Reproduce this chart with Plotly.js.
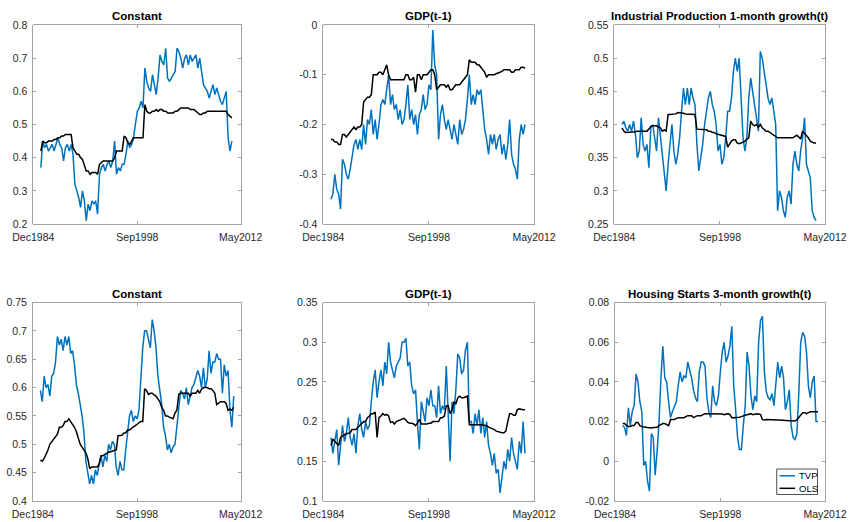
<!DOCTYPE html>
<html>
<head>
<meta charset="utf-8">
<script src="https://cdn.plot.ly/plotly-3.0.1.min.js"></script>
<style>html,body{margin:0;padding:0;background:#fff;}#chart{width:849px;height:522px;}</style>
</head>
<body>
<div id="chart"></div>
<script>
// ---- data (quarterly readings, first point Dec1985) ----
const startYear = 1985, startMonth = 12, stepMonths = 3, nPoints = 103;
const months = [];
for (let k = 0; k < nPoints; k++) {
  const t = startYear * 12 + (startMonth - 1) + k * stepMonths;
  const y = Math.floor(t / 12), m = t % 12 + 1;
  months.push(y + '-' + (m < 10 ? '0' + m : m) + '-01');
}

const titles = ['Constant', 'GDP(t-1)', 'Industrial Production 1-month growth(t)',
                'Constant', 'GDP(t-1)', 'Housing Starts 3-month growth(t)'];
const seriesNames = ['TVP', 'OLS'];
const xTickVals = ['1984-12-01', '1998-09-01', '2012-05-01'];
const xTickText = ['Dec1984', 'Sep1998', 'May2012'];

const yTicks1 = [0.2, 0.3, 0.4, 0.5, 0.6, 0.7, 0.8];
const yLabels1 = ['0.2', '0.3', '0.4', '0.5', '0.6', '0.7', '0.8'];
const yTicks2 = [-0.4, -0.3, -0.2, -0.1, 0];
const yLabels2 = ['-0.4', '-0.3', '-0.2', '-0.1', '0'];
const yTicks3 = [0.25, 0.3, 0.35, 0.4, 0.45, 0.5, 0.55];
const yLabels3 = ['0.25', '0.3', '0.35', '0.4', '0.45', '0.5', '0.55'];
const yTicks4 = [0.4, 0.45, 0.5, 0.55, 0.6, 0.65, 0.7, 0.75];
const yLabels4 = ['0.4', '0.45', '0.5', '0.55', '0.6', '0.65', '0.7', '0.75'];
const yTicks5 = [0.1, 0.15, 0.2, 0.25, 0.3, 0.35];
const yLabels5 = ['0.1', '0.15', '0.2', '0.25', '0.3', '0.35'];
const yTicks6 = [-0.02, 0, 0.02, 0.04, 0.06, 0.08];
const yLabels6 = ['-0.02', '0', '0.02', '0.04', '0.06', '0.08'];

const tvpConst1 = [0.37,0.45,0.43,0.44,0.42,0.43,0.44,0.42,0.44,0.46,
 0.44,0.43,0.39,0.43,0.44,0.42,0.44,0.41,0.32,0.30,
 0.28,0.25,0.30,0.27,0.21,0.26,0.24,0.27,0.26,0.27,
 0.23,0.35,0.37,0.38,0.36,0.38,0.39,0.37,0.39,0.45,
 0.35,0.37,0.36,0.38,0.38,0.41,0.45,0.43,0.44,0.46,
 0.50,0.54,0.55,0.57,0.55,0.67,0.63,0.61,0.60,0.65,
 0.62,0.59,0.64,0.71,0.69,0.68,0.73,0.64,0.63,0.64,
 0.65,0.66,0.73,0.72,0.70,0.67,0.70,0.71,0.68,0.71,
 0.69,0.70,0.71,0.67,0.70,0.66,0.62,0.61,0.60,0.58,
 0.60,0.62,0.59,0.61,0.59,0.57,0.56,0.58,0.60,0.46,
 0.42,0.45];
const olsConst1 = [0.42,0.45,0.445,0.445,0.45,0.45,0.45,0.455,0.455,0.46,
 0.46,0.465,0.465,0.47,0.47,0.47,0.47,0.43,0.42,0.41,
 0.41,0.40,0.395,0.38,0.36,0.36,0.35,0.355,0.355,0.355,
 0.35,0.38,0.385,0.39,0.39,0.39,0.39,0.39,0.39,0.40,
 0.42,0.42,0.42,0.42,0.465,0.46,0.445,0.44,0.45,0.46,
 0.46,0.46,0.46,0.46,0.46,0.56,0.54,0.535,0.535,0.54,
 0.54,0.545,0.54,0.545,0.545,0.54,0.54,0.535,0.535,0.535,
 0.535,0.54,0.54,0.545,0.55,0.55,0.55,0.55,0.55,0.545,
 0.545,0.545,0.54,0.535,0.53,0.53,0.535,0.535,0.54,0.54,
 0.54,0.54,0.54,0.54,0.54,0.54,0.54,0.54,0.54,0.53,
 0.525,0.52];
const tvpGdp1 = [-0.35,-0.34,-0.30,-0.33,-0.34,-0.37,-0.27,-0.28,-0.30,-0.31,
 -0.29,-0.26,-0.24,-0.23,-0.25,-0.23,-0.25,-0.20,-0.24,-0.19,
 -0.20,-0.17,-0.22,-0.19,-0.23,-0.20,-0.16,-0.15,-0.16,-0.13,
 -0.10,-0.16,-0.14,-0.17,-0.16,-0.19,-0.17,-0.20,-0.19,-0.16,
 -0.12,-0.19,-0.17,-0.20,-0.18,-0.22,-0.18,-0.17,-0.14,-0.17,
 -0.16,-0.12,-0.13,-0.01,-0.08,-0.10,-0.23,-0.18,-0.16,-0.19,
 -0.21,-0.19,-0.21,-0.23,-0.20,-0.22,-0.24,-0.19,-0.22,-0.21,
 -0.19,-0.15,-0.10,-0.16,-0.14,-0.16,-0.13,-0.14,-0.13,-0.17,
 -0.21,-0.23,-0.26,-0.22,-0.24,-0.22,-0.25,-0.23,-0.22,-0.26,
 -0.24,-0.27,-0.24,-0.19,-0.26,-0.28,-0.29,-0.31,-0.23,-0.20,
 -0.22,-0.20];
const olsGdp1 = [-0.23,-0.23,-0.235,-0.235,-0.24,-0.24,-0.22,-0.22,-0.225,-0.22,
 -0.215,-0.21,-0.205,-0.21,-0.205,-0.205,-0.20,-0.155,-0.15,-0.145,
 -0.145,-0.14,-0.10,-0.10,-0.10,-0.095,-0.095,-0.10,-0.09,-0.08,
 -0.10,-0.11,-0.11,-0.11,-0.11,-0.11,-0.11,-0.11,-0.11,-0.10,
 -0.10,-0.11,-0.11,-0.105,-0.135,-0.10,-0.10,-0.11,-0.10,-0.10,
 -0.10,-0.095,-0.09,-0.09,-0.10,-0.13,-0.125,-0.12,-0.12,-0.12,
 -0.125,-0.12,-0.13,-0.13,-0.125,-0.12,-0.12,-0.12,-0.115,-0.11,
 -0.105,-0.10,-0.07,-0.075,-0.075,-0.075,-0.08,-0.08,-0.085,-0.09,
 -0.095,-0.105,-0.10,-0.10,-0.10,-0.10,-0.098,-0.097,-0.095,-0.093,
 -0.09,-0.09,-0.09,-0.09,-0.095,-0.095,-0.09,-0.09,-0.09,-0.085,
 -0.085,-0.087];
const tvpIp = [0.40,0.405,0.395,0.39,0.40,0.39,0.405,0.385,0.35,0.36,
 0.41,0.37,0.36,0.37,0.335,0.395,0.40,0.38,0.36,0.41,
 0.38,0.35,0.33,0.30,0.34,0.37,0.40,0.36,0.34,0.355,
 0.38,0.42,0.455,0.43,0.455,0.43,0.455,0.44,0.43,0.37,
 0.33,0.35,0.37,0.40,0.42,0.44,0.45,0.43,0.42,0.40,
 0.36,0.37,0.34,0.35,0.38,0.42,0.42,0.44,0.48,0.50,
 0.48,0.50,0.44,0.38,0.36,0.38,0.44,0.47,0.45,0.43,
 0.41,0.39,0.51,0.50,0.48,0.46,0.44,0.43,0.44,0.42,
 0.40,0.27,0.30,0.29,0.27,0.26,0.29,0.30,0.28,0.34,
 0.36,0.34,0.33,0.36,0.38,0.41,0.34,0.33,0.32,0.27,
 0.26,0.255];
const olsIp = [0.395,0.39,0.388,0.388,0.388,0.388,0.389,0.389,0.39,0.39,
 0.39,0.39,0.39,0.39,0.393,0.397,0.398,0.398,0.398,0.396,
 0.395,0.39,0.392,0.39,0.415,0.415,0.415,0.416,0.416,0.418,
 0.418,0.417,0.417,0.416,0.416,0.415,0.415,0.415,0.415,0.393,
 0.393,0.393,0.393,0.392,0.392,0.39,0.39,0.388,0.388,0.386,
 0.385,0.384,0.384,0.383,0.382,0.366,0.37,0.375,0.377,0.377,
 0.372,0.371,0.372,0.373,0.375,0.378,0.38,0.405,0.40,0.398,
 0.40,0.396,0.40,0.395,0.393,0.39,0.39,0.388,0.385,0.384,
 0.381,0.38,0.38,0.38,0.38,0.38,0.38,0.38,0.381,0.38,
 0.382,0.384,0.381,0.378,0.39,0.387,0.384,0.38,0.375,0.373,
 0.372,0.372];
const tvpConst2 = [0.595,0.575,0.62,0.60,0.605,0.585,0.62,0.625,0.645,0.69,
 0.675,0.685,0.665,0.69,0.675,0.69,0.66,0.665,0.64,0.605,
 0.59,0.57,0.55,0.52,0.47,0.45,0.43,0.445,0.43,0.455,
 0.445,0.465,0.48,0.46,0.48,0.47,0.50,0.49,0.505,0.50,
 0.46,0.445,0.47,0.455,0.455,0.49,0.525,0.55,0.56,0.54,
 0.55,0.545,0.56,0.61,0.67,0.70,0.70,0.685,0.67,0.72,
 0.70,0.67,0.62,0.595,0.57,0.53,0.515,0.49,0.50,0.485,
 0.495,0.50,0.53,0.555,0.595,0.59,0.58,0.60,0.57,0.585,
 0.60,0.605,0.62,0.63,0.62,0.60,0.635,0.60,0.615,0.665,
 0.625,0.645,0.645,0.66,0.65,0.65,0.59,0.64,0.62,0.63,
 0.56,0.53,0.585];
const olsConst2 = [0.472,0.47,0.475,0.482,0.49,0.50,0.505,0.51,0.515,0.518,
 0.53,0.53,0.533,0.54,0.54,0.545,0.54,0.535,0.53,0.522,
 0.51,0.50,0.495,0.49,0.485,0.475,0.457,0.46,0.46,0.46,
 0.46,0.465,0.48,0.48,0.482,0.485,0.486,0.487,0.488,0.49,
 0.49,0.515,0.515,0.516,0.52,0.52,0.525,0.525,0.528,0.53,
 0.532,0.535,0.538,0.54,0.54,0.598,0.595,0.588,0.59,0.59,
 0.587,0.585,0.58,0.575,0.565,0.56,0.55,0.55,0.548,0.547,
 0.545,0.555,0.56,0.588,0.59,0.59,0.59,0.59,0.59,0.585,
 0.59,0.59,0.59,0.595,0.59,0.597,0.60,0.60,0.60,0.598,
 0.598,0.595,0.59,0.57,0.572,0.575,0.575,0.575,0.572,0.56,
 0.562,0.56,0.565];
const tvpGdp2 = [0.18,0.16,0.175,0.19,0.145,0.17,0.195,0.175,0.185,0.205,
 0.18,0.17,0.185,0.16,0.195,0.21,0.19,0.18,0.20,0.19,
 0.195,0.225,0.25,0.265,0.23,0.25,0.265,0.245,0.275,0.26,
 0.30,0.275,0.265,0.255,0.27,0.275,0.28,0.30,0.30,0.305,
 0.27,0.275,0.245,0.235,0.24,0.20,0.165,0.225,0.21,0.20,
 0.23,0.22,0.24,0.22,0.22,0.205,0.245,0.21,0.22,0.215,
 0.27,0.22,0.15,0.225,0.21,0.24,0.285,0.28,0.26,0.265,
 0.29,0.30,0.20,0.20,0.185,0.21,0.195,0.215,0.185,0.205,
 0.18,0.20,0.17,0.16,0.145,0.16,0.135,0.14,0.11,0.13,
 0.15,0.14,0.165,0.15,0.18,0.16,0.15,0.14,0.175,0.16,
 0.20,0.16];
const olsGdp2 = [0.17,0.178,0.175,0.172,0.17,0.18,0.182,0.183,0.185,0.185,
 0.186,0.19,0.19,0.19,0.193,0.195,0.198,0.20,0.20,0.205,
 0.207,0.21,0.21,0.212,0.18,0.205,0.207,0.21,0.208,0.209,
 0.207,0.199,0.20,0.197,0.20,0.201,0.202,0.203,0.204,0.202,
 0.199,0.198,0.198,0.197,0.195,0.198,0.203,0.197,0.197,0.197,
 0.197,0.198,0.198,0.20,0.20,0.20,0.20,0.205,0.205,0.207,
 0.22,0.22,0.21,0.215,0.225,0.222,0.23,0.232,0.23,0.23,
 0.231,0.232,0.196,0.196,0.196,0.196,0.196,0.196,0.196,0.196,
 0.195,0.195,0.193,0.192,0.19,0.19,0.188,0.187,0.186,0.186,
 0.186,0.188,0.20,0.21,0.21,0.208,0.208,0.215,0.216,0.215,
 0.215,0.215];
const tvpHs = [0.018,0.017,0.013,0.027,0.018,0.025,0.028,0.044,0.04,0.03,
 0.025,-0.002,0.0,-0.01,-0.015,0.014,0.012,-0.007,0.005,0.02,
 0.042,0.058,0.042,0.04,0.03,0.022,0.025,0.028,0.03,0.038,
 0.045,0.04,0.043,0.042,0.05,0.046,0.042,0.036,0.032,0.03,
 0.045,0.05,0.05,0.048,0.032,0.025,0.022,0.038,0.03,0.028,
 0.033,0.045,0.055,0.06,0.05,0.053,0.058,0.068,0.038,0.026,
 0.012,0.006,0.006,0.018,0.028,0.055,0.048,0.033,0.026,0.033,
 0.03,0.06,0.071,0.073,0.045,0.035,0.032,0.031,0.034,0.028,
 0.038,0.05,0.042,0.048,0.042,0.026,0.03,0.036,0.018,0.012,
 0.011,0.014,0.035,0.06,0.065,0.063,0.055,0.038,0.032,0.04,
 0.043,0.02,0.02];
const olsHs = [0.019,0.019,0.018,0.0175,0.0175,0.018,0.018,0.0195,0.0195,0.018,
 0.0175,0.0175,0.0172,0.017,0.0168,0.0168,0.017,0.017,0.0172,0.018,
 0.0185,0.019,0.019,0.0185,0.018,0.021,0.021,0.021,0.0215,0.022,
 0.022,0.022,0.022,0.0225,0.023,0.023,0.023,0.022,0.0225,0.023,
 0.023,0.023,0.0235,0.024,0.024,0.024,0.024,0.024,0.024,0.024,
 0.024,0.024,0.0238,0.0235,0.0238,0.024,0.0235,0.022,0.022,0.022,
 0.022,0.0222,0.0225,0.023,0.0232,0.0235,0.0238,0.024,0.0235,0.0238,
 0.024,0.0238,0.0235,0.021,0.0208,0.021,0.021,0.021,0.021,0.021,
 0.021,0.0208,0.0208,0.021,0.0207,0.0205,0.0205,0.0205,0.0205,0.0203,
 0.0203,0.021,0.022,0.023,0.0245,0.0245,0.024,0.0245,0.025,0.025,
 0.025,0.025,0.025];

// ---- layout ----
const W = 849, H = 522;
const boxes = [ // [left, right, top, bottom] in px
  [33.3, 240.7, 25, 224], [323.3, 534, 25, 224], [614.3, 825, 25, 224],
  [32.8, 240.7, 302.5, 501], [323.3, 534, 302.5, 501], [615, 825, 302.5, 501]
];
const panels = [
  {tvp: tvpConst1, ols: olsConst1, yr: [0.2, 0.8], tv: yTicks1, tt: yLabels1},
  {tvp: tvpGdp1, ols: olsGdp1, yr: [-0.4, 0], tv: yTicks2, tt: yLabels2},
  {tvp: tvpIp, ols: olsIp, yr: [0.25, 0.55], tv: yTicks3, tt: yLabels3},
  {tvp: tvpConst2, ols: olsConst2, yr: [0.4, 0.75], tv: yTicks4, tt: yLabels4},
  {tvp: tvpGdp2, ols: olsGdp2, yr: [0.1, 0.35], tv: yTicks5, tt: yLabels5},
  {tvp: tvpHs, ols: olsHs, yr: [-0.02, 0.08], tv: yTicks6, tt: yLabels6}
];
const FONT = 'Liberation Sans, Arial, Helvetica, sans-serif';
const axisColor = '#8c8c8c';
const textColor = '#262626';
const tvpColor = '#0072BD';
const olsColor = '#000000';

const data = [];
const layout = {
  width: W, height: H,
  margin: {l: 0, r: 0, t: 0, b: 0},
  paper_bgcolor: '#ffffff', plot_bgcolor: '#ffffff',
  font: {family: FONT, size: 10.5, color: textColor},
  showlegend: false,
  annotations: [],
  shapes: []
};

panels.forEach((p, i) => {
  const n = i + 1;
  const xa = n === 1 ? 'x' : 'x' + n;
  const ya = n === 1 ? 'y' : 'y' + n;
  const b = boxes[i];
  const xd = [b[0] / W, b[1] / W];
  const yd = [1 - b[3] / H, 1 - b[2] / H];
  data.push({
    x: months.slice(0, p.tvp.length), y: p.tvp, xaxis: xa, yaxis: ya,
    type: 'scatter', mode: 'lines', name: seriesNames[0],
    line: {color: tvpColor, width: 1.5}, hoverinfo: 'skip'
  });
  data.push({
    x: months.slice(0, p.ols.length), y: p.ols, xaxis: xa, yaxis: ya,
    type: 'scatter', mode: 'lines', name: seriesNames[1],
    line: {color: olsColor, width: 1.5}, hoverinfo: 'skip'
  });
  const xKey = n === 1 ? 'xaxis' : 'xaxis' + n;
  const yKey = n === 1 ? 'yaxis' : 'yaxis' + n;
  layout[xKey] = {
    domain: xd, anchor: ya, type: 'date',
    range: ['1984-12-01', '2012-05-01'],
    tickmode: 'array', tickvals: xTickVals, ticktext: xTickText,
    ticks: 'inside', ticklen: 3, tickcolor: axisColor, tickwidth: 0.8,
    showline: true, linecolor: axisColor, linewidth: 0.8, mirror: 'ticks',
    showgrid: false, zeroline: false, ticklabelstandoff: 4,
    tickfont: {family: FONT, size: 10.5, color: textColor}
  };
  layout[yKey] = {
    domain: yd, anchor: xa,
    range: p.yr, tickmode: 'array', tickvals: p.tv, ticktext: p.tt,
    ticks: 'inside', ticklen: 3, tickcolor: axisColor, tickwidth: 0.8,
    showline: true, linecolor: axisColor, linewidth: 0.8, mirror: 'ticks',
    showgrid: false, zeroline: false, ticklabelstandoff: 3,
    tickfont: {family: FONT, size: 10.5, color: textColor}
  };
  layout.annotations.push({
    text: '<b>' + titles[i] + '</b>', xref: 'paper', yref: 'paper',
    x: (xd[0] + xd[1]) / 2, y: yd[1], xanchor: 'center', yanchor: 'bottom',
    yshift: 1, showarrow: false,
    font: {family: FONT, size: 11.5, color: '#000000'}
  });
});

// ---- legend box (bottom-right of last panel), MATLAB style ----
const lg = {x0: 776.7, x1: 817.5, y0: 469, y1: 494.5, lineX0: 779.5, lineX1: 795, textX: 796.5, rows: [475.8, 488.3]};
const px = v => v / W, py = v => 1 - v / H;
layout.shapes.push({type: 'rect', xref: 'paper', yref: 'paper',
  x0: px(lg.x0), x1: px(lg.x1), y0: py(lg.y1), y1: py(lg.y0),
  line: {color: '#262626', width: 0.8}, fillcolor: '#ffffff', layer: 'above'});
[tvpColor, olsColor].forEach((c, j) => {
  layout.shapes.push({type: 'line', xref: 'paper', yref: 'paper',
    x0: px(lg.lineX0), x1: px(lg.lineX1), y0: py(lg.rows[j]), y1: py(lg.rows[j]),
    line: {color: c, width: 1.5}, layer: 'above'});
  layout.annotations.push({text: seriesNames[j], xref: 'paper', yref: 'paper',
    x: px(lg.textX), y: py(lg.rows[j]), xanchor: 'left', yanchor: 'middle',
    showarrow: false, font: {family: FONT, size: 9.5, color: '#000000'}});
});

Plotly.newPlot('chart', data, layout, {staticPlot: true, displayModeBar: false});
</script>
</body>
</html>
